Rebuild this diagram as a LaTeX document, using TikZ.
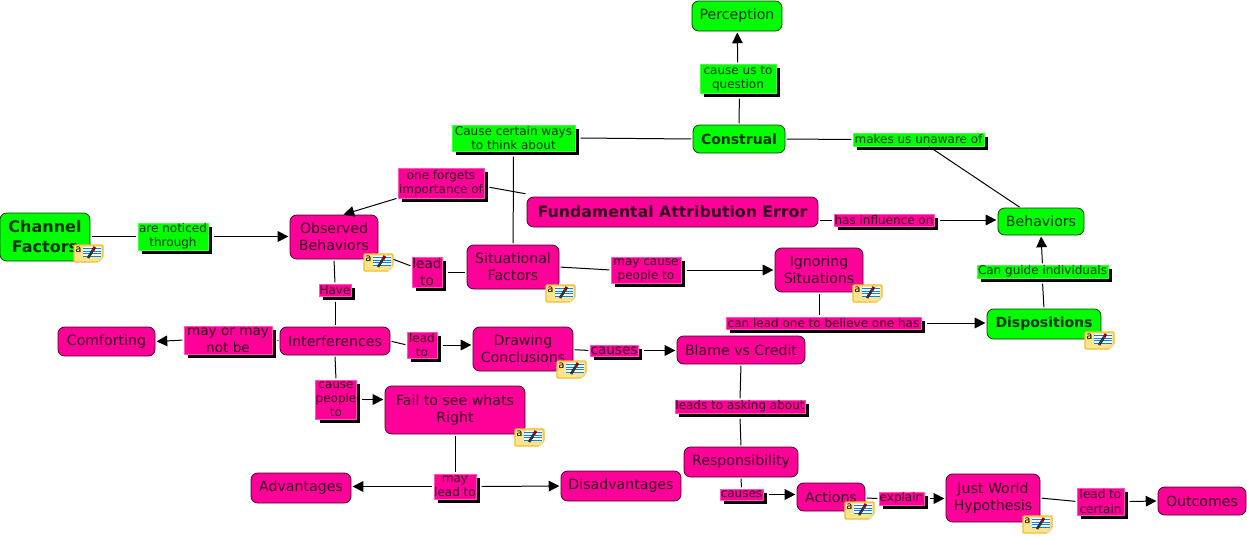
\documentclass[tikz,border=0pt]{standalone}
\usepackage{fontspec}
\setmainfont{DejaVu Sans}
\usetikzlibrary{arrows.meta,shadows}
\definecolor{cpink}{HTML}{FF0099}
\definecolor{cgreen}{HTML}{00FF00}
\definecolor{lpink}{HTML}{FF55BB}
\definecolor{lgreen}{HTML}{44FF44}
\definecolor{ptext}{HTML}{33001F}
\definecolor{gtext}{HTML}{003300}
\definecolor{pedge}{HTML}{400026}
\definecolor{gedge}{HTML}{004000}
\definecolor{noteY}{HTML}{FFE58A}
\definecolor{noteB}{HTML}{EDBE3A}
\tikzset{
  x=0.75pt,y=-0.75pt,
  box/.style={inner sep=0pt,outer sep=0pt,align=center},
  concept/.style={box,line width=0.6pt,rounded corners=5pt,font=\fontsize{10.6}{12.8}\selectfont},
  pinkc/.style={concept,fill=cpink,draw=pedge,text=ptext},
  greenc/.style={concept,fill=cgreen,draw=gedge,text=gtext},
  bigfont/.style={font=\fontsize{12}{15}\bfseries\selectfont},
  faefont/.style={font=\fontsize{11.8}{15}\bfseries\selectfont},
  boldfont/.style={font=\fontsize{10.5}{12.8}\bfseries\selectfont},
  lab/.style={box,line width=0.5pt,general shadow={fill=black,shadow xshift=3pt,shadow yshift=-3pt},font=\fontsize{9}{10.6}\selectfont},
  labbig/.style={font=\fontsize{10.2}{12.6}\selectfont},
  pinkl/.style={lab,fill=cpink,draw=lpink,text=ptext},
  greenl/.style={lab,fill=cgreen,draw=lgreen,text=gtext},
  conn/.style={line width=0.75pt,shorten <=1.2pt,shorten >=1.2pt},
  arr/.style={conn,-{Triangle[length=8pt,width=8pt]}},
}
% name, x1, y1, x2, y2, style, text
\newcommand{\pxbox}[7]{%
  \pgfmathsetmacro{\bxcx}{(#2+#4)/2}\pgfmathsetmacro{\bxcy}{(#3+#5)/2}%
  \pgfmathsetmacro{\bxw}{(#4-#2)*0.75}\pgfmathsetmacro{\bxh}{(#5-#3)*0.75}%
  \node[#6,minimum width=\bxw pt,minimum height=\bxh pt] (#1) at (\bxcx,\bxcy) {#7};}
\newcommand{\noteicon}[3]{%
  \begin{scope}[shift={(#2,#3)}]
    \fill[fill=noteY,draw=noteB,line width=0.9pt,rounded corners=0.7pt]
      (0,1)--(29,1)--(29,13)--(24,18)--(0,18)--cycle;
    \fill[white] (9,3) rectangle (27,13);
    \foreach \yy in {4.5,7,9.5,12}{\draw[blue!50!cyan,line width=0.7pt] (9,\yy)--(27,\yy);}
    \draw[black!80,line width=2pt] (14,14)--(19,6);
    \draw[red!60!black,line width=2.2pt] (19,6)--(21,3);
    \fill[noteB!50!white] (24,18)--(24,13)--(29,13)--cycle;
    \node[inner sep=0pt,text=black,font=\fontsize{7.5}{7.5}\selectfont] (#1) at (4.5,6) {a};
  \end{scope}}
\begin{document}
\begin{tikzpicture}
\useasboundingbox[fill=white] (0,0) rectangle (1247,536);
% concepts
\pxbox{perc}{692}{1}{782}{31}{greenc}{Perception}
\pxbox{cons}{693}{125}{785}{153}{greenc,boldfont}{Construal}
\pxbox{fae}{527}{197}{818}{227}{pinkc,faefont}{Fundamental Attribution Error}
\pxbox{beh}{998}{208}{1084}{235}{greenc}{Behaviors}
\pxbox{chan}{0}{213}{90}{261}{greenc,bigfont}{Channel\\Factors}
\pxbox{obs}{290}{215}{378}{259}{pinkc}{Observed\\Behaviors}
\pxbox{sit}{467}{245}{559}{289}{pinkc}{Situational\\Factors}
\pxbox{ign}{775}{248}{863}{292}{pinkc}{Ignoring\\Situations}
\pxbox{disp}{987}{309}{1101}{339}{greenc,boldfont}{Dispositions}
\pxbox{comf}{58}{327}{155}{356}{pinkc}{Comforting}
\pxbox{intf}{280}{327}{390}{355}{pinkc}{Interferences}
\pxbox{drw}{473}{327}{573}{371}{pinkc}{Drawing\\Conclusions}
\pxbox{blame}{677}{336}{805}{364}{pinkc}{Blame vs Credit}
\pxbox{fail}{385}{386}{525}{434}{pinkc}{Fail to see whats\\Right}
\pxbox{adv}{251}{473}{351}{503}{pinkc}{Advantages}
\pxbox{dis}{561}{471}{681}{501}{pinkc}{Disadvantages}
\pxbox{resp}{684}{447}{798}{477}{pinkc}{Responsibility}
\pxbox{act}{797}{483}{865}{511}{pinkc}{Actions}
\pxbox{jwh}{946}{474}{1040}{522}{pinkc}{Just World\\Hypothesis}
\pxbox{outc}{1158}{487}{1246}{515}{pinkc}{Outcomes}
% labels
\pxbox{lcause}{700}{64}{776}{93}{greenl}{cause us to\\question}
\pxbox{lways}{452}{125}{575}{151}{greenl}{Cause certain ways\\to think about}
\pxbox{lmakes}{853}{133}{984}{146}{greenl}{makes us unaware of}
\pxbox{lforg}{398}{168}{484}{198}{pinkl}{one forgets\\importance of}
\pxbox{lhas}{834}{214}{934}{226}{pinkl}{has influence on}
\pxbox{lnot}{138}{223}{208}{250}{greenl}{are noticed\\through}
\pxbox{llead}{412}{257}{442}{287}{pinkl,labbig}{lead\\to}
\pxbox{lmay}{611}{257}{681}{283}{pinkl}{may cause\\people to}
\pxbox{lguide}{977}{265}{1108}{278}{greenl}{Can guide individuals}
\pxbox{lhave}{319}{284}{351}{296}{pinkl}{Have}
\pxbox{lbel}{726}{317}{921}{329}{pinkl}{can lead one to believe one has}
\pxbox{lmaynot}{184}{326}{272}{354}{pinkl,labbig}{may or may\\not be}
\pxbox{lleadb}{407}{332}{437}{358}{pinkl}{lead\\to}
\pxbox{lcauses}{590}{345}{638}{356}{pinkl,labbig}{causes}
\pxbox{lpeople}{316}{380}{356}{419}{pinkl}{cause\\people\\to}
\pxbox{lask}{675}{400}{805}{413}{pinkl}{leads to asking about}
\pxbox{lmlead}{434}{474}{476}{499}{pinkl}{may\\lead to}
\pxbox{lcausesb}{720}{489}{763}{500}{pinkl}{causes}
\pxbox{lexpl}{879}{492}{924}{505}{pinkl}{explain}
\pxbox{lcert}{1077}{488}{1124}{515}{pinkl}{lead to\\certain}
% connectors
\draw[conn] (cons) -- ([xshift=1pt,yshift=-3pt]lcause.south);
\draw[arr] (lcause) -- (perc);
\draw[conn] (cons.west) -- ([xshift=3pt]lways.east);
\draw[conn] ([yshift=-3pt]lways.south) -- (sit);
\draw[conn] (cons.east) -- (lmakes.west);
\draw[conn] (lmakes) -- (beh);
\draw[arr] (lforg.south west) -- ([xshift=6pt]obs.north);
\draw[conn] ([xshift=3pt,yshift=-3pt]lforg.east) -- ([yshift=2.25pt]fae.north west);
\draw[conn] (lhas.west -| fae.east) -- (lhas.west);
\draw[arr] ([xshift=3pt]lhas.east) -- (lhas.east -| beh.west);
\draw[conn] (lnot.west -| chan.east) -- (lnot.west);
\draw[arr] ([xshift=3pt]lnot.east) -- (lnot.east -| obs.west);
\draw[conn] (obs) -- (llead);
\draw[conn] ([xshift=3pt]llead.east) -- (llead.east -| sit.west);
\draw[conn] (obs.south) -- (lhave.north);
\draw[conn] ([yshift=-3pt]lhave.south) -- (lhave.south |- intf.north);
\draw[conn] (sit.east) -- (lmay.west);
\draw[arr] ([xshift=3pt]lmay.east) -- (lmay.east -| ign.west);
\draw[conn] (ign.south) -- (lbel.north -| ign.south);
\draw[arr] ([xshift=3pt]lbel.east) -- (lbel.east -| disp.west);
\draw[conn] (disp.north) -- ([yshift=-3pt]lguide.south);
\draw[arr] (lguide.north) -- (beh.south);
\draw[conn] (intf.west) -- ([xshift=3pt]lmaynot.east);
\draw[arr] (lmaynot.west) -- (comf.east);
\draw[conn] (intf.east) -- (lleadb.west);
\draw[arr] ([xshift=3pt]lleadb.east) -- (lleadb.east -| drw.west);
\draw[conn] ([yshift=-0.5pt]drw.east) -- (lcauses.west);
\draw[arr] ([xshift=3pt]lcauses.east) -- (lcauses.east -| blame.west);
\draw[conn] (intf.south) -- (lpeople.north);
\draw[arr] ([xshift=3pt]lpeople.east) -- (lpeople.east -| fail.west);
\draw[conn] (blame.south) -- (lask.north);
\draw[conn] ([yshift=-3pt]lask.south) -- (resp.north);
\draw[conn] (fail.south) -- (lmlead.north);
\draw[arr] (lmlead.west) -- (lmlead.west -| adv.east);
\draw[arr] ([xshift=3pt]lmlead.east) -- (dis.west);
\draw[conn] (resp.south) -- (lcausesb.north);
\draw[arr] ([xshift=3pt]lcausesb.east) -- (lcausesb.east -| act.west);
\draw[conn] ([yshift=-0.75pt]act.east) -- (lexpl.west);
\draw[arr] ([xshift=3pt]lexpl.east) -- (lexpl.east -| jwh.west);
\draw[conn] (jwh.east) -- (lcert.west);
\draw[arr] ([xshift=3pt]lcert.east) -- (outc.west);
% note icons
\noteicon{nchan}{74}{244}
\noteicon{nobs}{364}{253}
\noteicon{nsit}{546}{284}
\noteicon{nign}{853}{284}
\noteicon{ndisp}{1085}{331}
\noteicon{ndraw}{557}{360}
\noteicon{nfail}{515}{428}
\noteicon{nact}{845}{501}
\noteicon{njwh}{1023}{515}
\end{tikzpicture}
\end{document}
